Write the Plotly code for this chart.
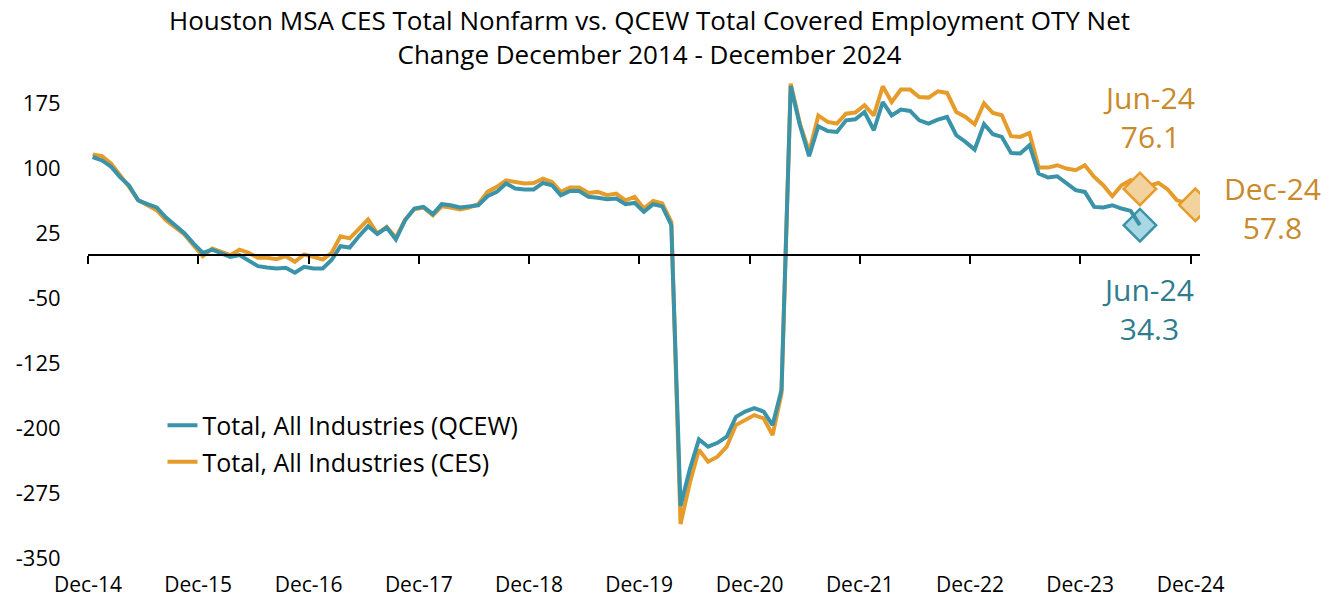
import pandas as pd
import plotly.graph_objects as go

# Monthly OTY net change (thousands), Dec-2014 .. Dec-2024
ces = [116, 114, 105.5, 92.7, 78.5, 63, 57, 51.6, 40, 31.6, 23.5, 11,
       -1.5, 7.3, 3.5, -0.3, 6, 2.3, -3.4, -3.4, -5, -1.5, -8, 0.4,
       -2.3, -5.3, 2.3, 21.5, 19, 30.4, 40.8, 24.7, 32.3, 20, 40.8, 52.7,
       54.7, 45.8, 56, 54.7, 52.4, 54.7, 58.5, 72.7, 78.5, 86, 84.2, 82.4,
       83, 88, 84.2, 72.7, 77.8, 77.8, 71.5, 72.7, 68.9, 70.8, 63, 67,
       53.5, 62.3, 59.3, 38, -310.7, -263.8, -225, -238.8, -233, -221.5, -196.5, -190.7,
       -185, -188.8, -208, -160, 197.7, 151.6, 118.8, 161, 153.5, 151.6, 163, 164.3,
       172.7, 161, 194.6, 176.5, 190.8, 190.8, 182.3, 181.6, 188.9, 187, 165, 159.2,
       150.8, 175, 163.8, 161.2, 137, 136.2, 140.8, 100.8, 100.8, 103.5, 99.7, 97.7,
       103.5, 90, 80.4, 67.7, 80.4, 86.2, 76.1, 80, 83, 75.5, 63, 60,
       57.8]

qcew = [113, 109, 102, 90, 80, 63, 58.5, 54.7, 43, 34, 25, 13,
        2.3, 6, 1.6, -2.3, -0.3, -6, -13, -14.6, -15.7, -15, -20.7, -13.8,
        -15.7, -15.7, -6, 10, 8.5, 21.5, 33, 24, 31.6, 17.7, 40, 53.5,
        55.4, 47, 58.5, 57.3, 54.7, 56, 57.3, 67.7, 72.7, 82.4, 76.6, 75.5,
        75.5, 83, 80.4, 68.9, 73.8, 73.8, 67, 66, 64.3, 65, 58.5, 60,
        49.6, 58.5, 56, 34.3, -290, -248, -213, -221.5, -217, -210, -187, -181,
        -177, -181, -196.5, -156, 195, 149.6, 113.9, 148.5, 143, 142, 155.4, 156.6,
        165, 143.9, 176.5, 161, 167.8, 166.2, 155.4, 151.6, 156.2, 159.2, 138.1, 130.4,
        121.6, 151, 139.3, 136.2, 117.7, 117, 126.6, 93.9, 89.3, 90.8, 83, 74.7,
        72.7, 55.4, 54.7, 57.3, 53.5, 50.8, 34.3]

tick_labels = ["Dec-14", "Dec-15", "Dec-16", "Dec-17", "Dec-18", "Dec-19",
               "Dec-20", "Dec-21", "Dec-22", "Dec-23", "Dec-24"]
y_ticks = [175, 100, 25, -50, -125, -200, -275, -350]
y_tick_text = ["175", "100", "25", "-50", "-125", "-200", "-275", "-350"]

title_text = ("Houston MSA CES Total Nonfarm vs. QCEW Total Covered Employment OTY Net"
              "<br>Change December 2014 - December 2024")

# months; points are placed in the middle of each month (category centre)
starts = pd.date_range("2014-12-01", periods=len(ces) + 1, freq="MS")
mids = starts[:-1] + (starts[1:] - starts[:-1]) / 2
x_ces = list(mids)
x_qcew = list(mids[:len(qcew)])
tick_vals = [pd.Timestamp(f"{2014 + k}-12-01") for k in range(len(tick_labels))]
x_range = [pd.Timestamp("2014-12-01"), pd.Timestamp("2025-01-01")]

TEAL = "#3A93A8"
TEAL_TXT = "#2E7C8E"
TEAL_FILL = "#A9D8E4"
ORANGE = "#E59C2B"
ORANGE_TXT = "#C88A2A"
ORANGE_FILL = "#F2D29D"
FONT = "Open Sans"

y_min, y_max = -350, 225
W, H = 1337, 599
M_L, M_R, M_T, M_B = 88, 137, 60, 41
plot_w = W - M_L - M_R
plot_h = H - M_T - M_B

fig = go.Figure()
fig.add_trace(go.Scatter(x=x_qcew, y=qcew, mode="lines", name="Total, All Industries (QCEW)",
                         legendgroup="q", line=dict(color=TEAL, width=4), xaxis="x2"))
fig.add_trace(go.Scatter(x=x_ces, y=ces, mode="lines", name="Total, All Industries (CES)",
                         legendgroup="c", line=dict(color=ORANGE, width=4)))

# highlighted points
jun_idx_q = len(qcew) - 1
jun_idx_c = jun_idx_q
dec_idx_c = len(ces) - 1
fig.add_trace(go.Scatter(x=[x_qcew[jun_idx_q]], y=[qcew[jun_idx_q]], mode="markers", showlegend=False,
                         marker=dict(symbol="diamond", size=25, color=TEAL_FILL,
                                     line=dict(color=TEAL, width=2.5))))
fig.add_trace(go.Scatter(x=[x_ces[jun_idx_c], x_ces[dec_idx_c]], y=[ces[jun_idx_c], ces[dec_idx_c]],
                         mode="markers", showlegend=False,
                         marker=dict(symbol="diamond", size=25, color=ORANGE_FILL,
                                     line=dict(color=ORANGE, width=2.5))))

ann_font = dict(family=FONT, size=30)
fig.add_annotation(x=x_ces[jun_idx_c], y=ces[jun_idx_c], text=f"Jun-24<br>{ces[jun_idx_c]:.1f}",
                   showarrow=False, xshift=9, yshift=72, font=dict(ann_font, color=ORANGE_TXT))
fig.add_annotation(x=x_ces[dec_idx_c], y=ces[dec_idx_c], text=f"Dec-24<br>{ces[dec_idx_c]:.1f}",
                   showarrow=False, xshift=77, yshift=-3, font=dict(ann_font, color=ORANGE_TXT))
fig.add_annotation(x=x_qcew[jun_idx_q], y=qcew[jun_idx_q], text=f"Jun-24<br>{qcew[jun_idx_q]:.1f}",
                   showarrow=False, xshift=8, yshift=-84, font=dict(ann_font, color=TEAL_TXT))

# title as a paper annotation (two centred lines)
fig.add_annotation(x=(649 - M_L) / plot_w, y=(H - M_B - 37) / plot_h, xref="paper", yref="paper",
                   text=title_text, showarrow=False, xanchor="center", yanchor="middle",
                   font=dict(family=FONT, size=26, color="black"))

zero_pos = (0 - y_min) / (y_max - y_min)

fig.update_layout(
    width=W, height=H,
    margin=dict(l=M_L, r=M_R, t=M_T, b=M_B),
    paper_bgcolor="white", plot_bgcolor="white",
    font=dict(family=FONT, size=20, color="black"),
    xaxis=dict(type="date", range=x_range, tickvals=tick_vals, ticktext=tick_labels,
               showline=False, showgrid=False, zeroline=False, automargin=False,
               ticks="outside", ticklen=8, tickcolor="rgba(0,0,0,0)",
               tickfont=dict(family=FONT, size=21, color="black")),
    xaxis2=dict(type="date", range=x_range, tickvals=tick_vals, overlaying="x",
                anchor="free", position=zero_pos, side="bottom", automargin=False,
                showline=True, linecolor="black", linewidth=2,
                ticks="outside", ticklen=8, tickwidth=2, tickcolor="black",
                showticklabels=False, showgrid=False, zeroline=False),
    yaxis=dict(range=[y_min, y_max], tickvals=y_ticks, ticktext=y_tick_text,
               showgrid=False, zeroline=False, automargin=False,
               showline=False, ticks="outside", ticklen=22, tickcolor="rgba(0,0,0,0)",
               tickfont=dict(family=FONT, size=22, color="black")),
    legend=dict(x=0.067, y=0.312, xanchor="left", yanchor="top", bgcolor="rgba(0,0,0,0)",
                font=dict(family=FONT, size=25, color="black"), tracegroupgap=1),
)

fig.write_html("out.html", config={"displayModeBar": False},
               post_script="document.body.style.margin='0';")
